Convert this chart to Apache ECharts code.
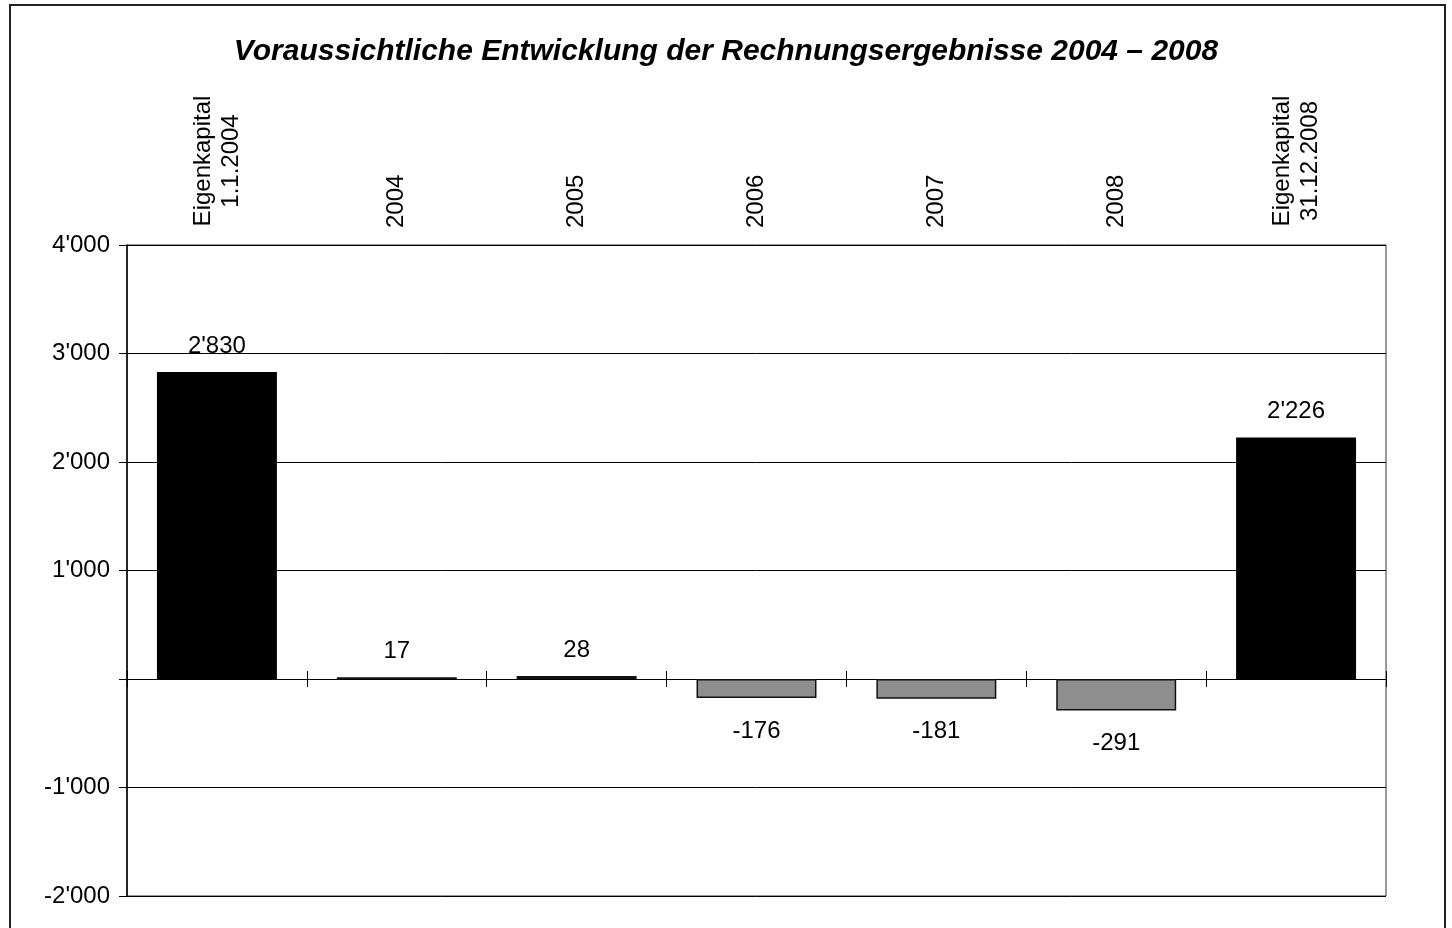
<!DOCTYPE html>
<html>
<head>
<meta charset="utf-8">
<title>Rechnungsergebnisse 2004 - 2008</title>
<script src="https://cdn.jsdelivr.net/npm/echarts@6/dist/echarts.min.js"></script>
<style>
    html, body { margin: 0; padding: 0; background: #fff; }
    #chart { width: 1452px; height: 928px; }
</style>
</head>
<body>
<div id="chart"></div>
<script>
var categories = ['Eigenkapital\n1.1.2004', '2004', '2005', '2006', '2007', '2008', 'Eigenkapital\n31.12.2008'];
var values = [2830, 17, 28, -176, -181, -291, 2226];
var yTicks = [-2000, -1000, 0, 1000, 2000, 3000, 4000];

var FONT = "'Liberation Sans', Arial, sans-serif";

function fmt(n) {
    var s = Math.abs(n).toString().replace(/\B(?=(\d{3})+(?!\d))/g, "'");
    return (n < 0 ? '-' : '') + s;
}

var chart = echarts.init(document.getElementById('chart'));

var seriesData = values.map(function (v, i) {
    var stock = categories[i].indexOf('Eigenkapital') === 0;
    return {
        value: v,
        itemStyle: stock ? { color: '#000', borderColor: '#000', borderWidth: 0 }
                         : { color: '#8e8e8e', borderColor: '#111', borderWidth: 1.5 },
        label: v < 0 ? { position: 'bottom', distance: 21 } : { position: 'top', distance: 14 }
    };
});

var option = {
    animation: false,
    backgroundColor: '#fff',
    title: {
        text: 'Voraussichtliche Entwicklung der Rechnungsergebnisse 2004 – 2008',
        left: 'center',
        top: 32,
        textStyle: {
            fontFamily: FONT,
            fontSize: 30,
            fontWeight: 'bold',
            fontStyle: 'italic',
            color: '#000'
        }
    },
    graphic: [{
        type: 'rect',
        shape: { x: 10, y: 5, width: 1435, height: 940 },
        style: { fill: 'none', stroke: '#222', lineWidth: 2 },
        silent: true
    }],
    grid: {
        left: 127,
        right: 66,
        top: 245,
        bottom: 32,
        show: true,
        borderColor: '#333',
        borderWidth: 1,
        backgroundColor: 'transparent'
    },
    xAxis: [{
        // labels above the plot
        type: 'category',
        data: categories,
        position: 'top',
        axisLine: { show: false, onZero: false },
        axisTick: { show: false },
        splitLine: { show: false },
        axisLabel: {
            interval: 0,
            rotate: -90,
            margin: 17,
            fontFamily: FONT,
            fontSize: 24,
            color: '#000',
            formatter: function (value) {
                if (value.indexOf('\n') < 0) return value;
                return value.split('\n').map(function (l) { return '{c|' + l + '}'; }).join('\n');
            },
            rich: {
                c: { width: 134, align: 'center', fontFamily: FONT, fontSize: 24, color: '#000', lineHeight: 28 }
            }
        }
    }, {
        // zero line with downward ticks
        type: 'category',
        data: categories,
        position: 'bottom',
        axisLine: { show: true, onZero: true, onZeroAxisIndex: 0, lineStyle: { color: '#000', width: 1 } },
        axisTick: { show: true, length: 8, lineStyle: { color: '#000' } },
        axisLabel: { show: false },
        splitLine: { show: false }
    }, {
        // upward ticks on the zero line
        type: 'category',
        data: categories,
        position: 'bottom',
        axisLine: { show: false, onZero: true, onZeroAxisIndex: 0 },
        axisTick: { show: true, inside: true, length: 8, lineStyle: { color: '#000' } },
        axisLabel: { show: false },
        splitLine: { show: false }
    }],
    yAxis: {
        type: 'value',
        min: yTicks[0],
        max: yTicks[yTicks.length - 1],
        interval: 1000,
        axisLine: { show: true, onZero: false, lineStyle: { color: '#000', width: 1.5 } },
        axisTick: { show: true, length: 8, lineStyle: { color: '#000' } },
        splitLine: { show: true, lineStyle: { color: '#000', width: 1 } },
        axisLabel: {
            margin: 17,
            fontFamily: FONT,
            fontSize: 24,
            color: '#000',
            formatter: function (v) { return v === 0 ? '' : fmt(v); }
        }
    },
    series: [{
        type: 'bar',
        xAxisIndex: 0,
        yAxisIndex: 0,
        barWidth: '66.7%',
        data: seriesData,
        label: {
            show: true,
            fontFamily: FONT,
            fontSize: 24,
            color: '#000',
            formatter: function (p) { return fmt(p.value); }
        }
    }]
};

chart.setOption(option);
</script>
</body>
</html>
